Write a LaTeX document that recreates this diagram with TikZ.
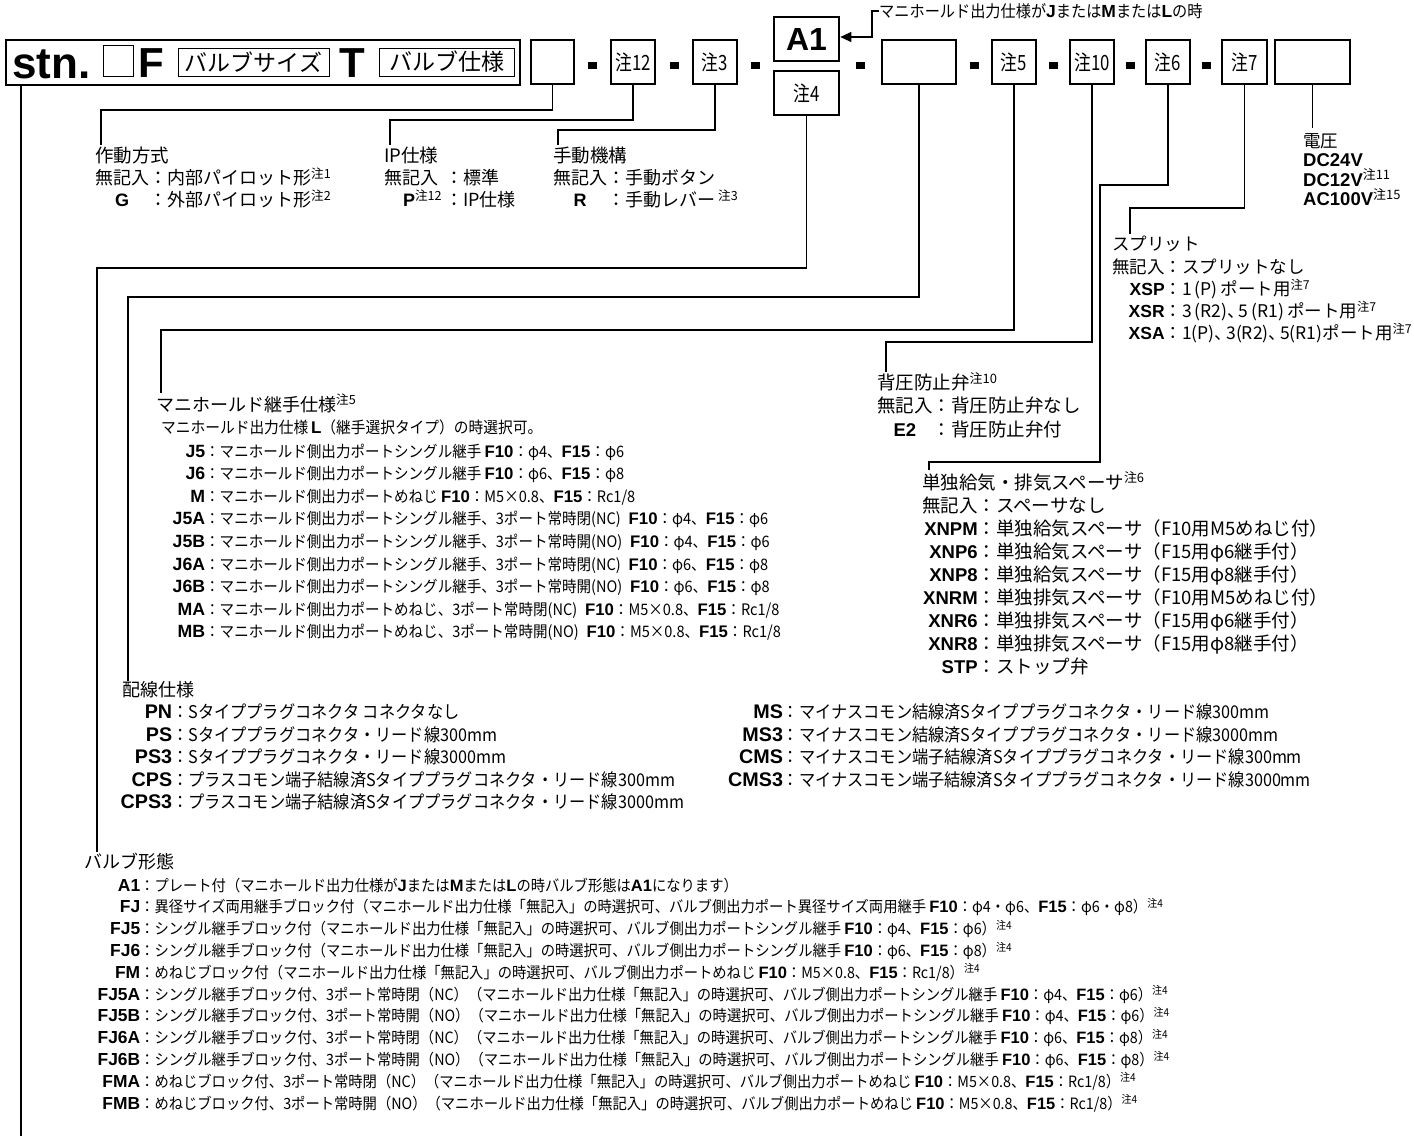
\documentclass[tikz,border=0pt]{standalone}
\usepackage{fontspec}
\usetikzlibrary{arrows.meta}
\setmainfont{Noto Sans CJK JP}
\newfontfamily\lat{Liberation Sans}
\newfontfamily\jc{Noto Sans CJK JP}[FakeStretch=0.92]
\newfontfamily\jn{Noto Sans CJK JP}[FakeStretch=0.8]
\newcommand\Bd[1]{{\lat\bfseries #1}}
\makeatletter
\newcommand\Bcd[1]{{\lat\bfseries\fontsize{\strip@pt\dimexpr 1.06\dimexpr\f@size pt\relax\relax}{\f@baselineskip}\selectfont #1}}
\newcommand\Cd[1]{{\lat\bfseries\fontsize{\strip@pt\dimexpr 1.12\dimexpr\f@size pt\relax\relax}{\f@baselineskip}\selectfont #1}}
\makeatother
\newcommand\chu[1]{\smash{\textsuperscript{注#1}}}
\newcommand\FS[2]{\fontsize{#1}{#2}\selectfont}
\newcommand\muki{（マニホールド出力仕様「無記入」の時選択可、バルブ側出力ポート}
\begin{document}
\begin{tikzpicture}[x=1pt,y=-1pt,
  conn/.style={line width=1.1pt},
  thinbox/.style={draw,line width=0.8pt,inner sep=0pt},
  hv/.style={draw,line width=2.6pt,inner sep=0pt,minimum height=44pt,font=\jn\FS{21}{21}},
  dashbox/.style={fill,inner sep=0pt,minimum width=9pt,minimum height=7pt},
  txt/.style={anchor=base west,inner sep=0pt},
  big/.style={anchor=base,inner sep=0pt,font=\lat\bfseries\FS{42}{42}}]
\useasboundingbox (0,0) rectangle (1414,1136);

% ---------- header ----------
\node[draw,line width=2pt,inner sep=0pt,minimum width=514pt,minimum height=45pt,anchor=north west] (stnbox) at (5,39) {};
\node[txt,font=\lat\bfseries\FS{44}{44}] (stn) at (12,78) {stn.};
\node[thinbox,minimum width=30pt,minimum height=31pt] (sq) at (118,60.5) {};
\node[big] (F) at (151,77) {F};
\node[thinbox,minimum width=151pt,minimum height=28pt,font=\FS{23}{23}] (vsize) at (253.5,62) {バルブサイズ};
\node[big] (T) at (352,77) {T};
\node[thinbox,minimum width=135pt,minimum height=28pt,font=\FS{23}{23}] (vspec) at (446.5,62) {バルブ仕様};

\node[hv,minimum width=43pt] (b1) at (552.5,62) {};
\node[hv,minimum width=44pt] (n12) at (633,62) {注12};
\node[hv,minimum width=44pt] (n3) at (715,62) {注3};
\node[hv,minimum width=65pt,font=\lat\bfseries\FS{32}{32}] (a1) at (806.5,39) {A1};
\node[hv,minimum width=65pt] (n4) at (806.5,93) {注4};
\node[hv,minimum width=74pt] (b2) at (919,62) {};
\node[hv,minimum width=44pt] (n5) at (1014,62) {注5};
\node[hv,minimum width=44pt] (n10) at (1092,62) {注10};
\node[hv,minimum width=44pt] (n6) at (1168,62) {注6};
\node[hv,minimum width=45pt] (n7) at (1244.5,62) {注7};
\node[hv,minimum width=75pt] (b3) at (1312.5,62) {};

\node[dashbox] (d1) at (592,65) {};
\node[dashbox] (d2) at (674,65) {};
\node[dashbox] (d3) at (755,65) {};
\node[dashbox] (d4) at (860,65) {};
\node[dashbox] (d5) at (974,65) {};
\node[dashbox] (d6) at (1053,65) {};
\node[dashbox] (d7) at (1130,65) {};
\node[dashbox] (d8) at (1206,65) {};

\node[anchor=west,inner sep=0pt,font=\jc\FS{16.5}{16.5}] (note) at (879,11) {マニホールド出力仕様が\Bcd{J}または\Bcd{M}または\Bcd{L}の時};
\draw[line width=1.1pt,-{Triangle[length=11pt,width=10pt]}] (note.west) -- ++(-7,0) |- ([yshift=2pt]a1.east);

% ---------- upper blocks ----------
\node[txt,font=\FS{18.5}{22}] (sadou-h) at (95,162.5) {作動方式};
\node[txt,font=\FS{18}{22}] (sadou) at (95,184.5) {\begin{tabular}[t]{@{}c@{}l@{}}無記入&：内部パイロット形\chu{1}\\ \Bd{G}&：外部パイロット形\chu{2}\end{tabular}};

\node[txt,font=\FS{18.5}{22}] (ip-h) at (384,162.5) {IP仕様};
\node[txt,font=\FS{18}{22}] (ip) at (384,184.5) {\begin{tabular}[t]{@{}l@{}l@{}}\makebox[61pt][l]{無記入}&：標準\\ \makebox[61pt][r]{\Bd{P}\chu{12}\hspace{3pt}}&：IP仕様\end{tabular}};

\node[txt,font=\FS{18.5}{22}] (shudo-h) at (553,162.5) {手動機構};
\node[txt,font=\FS{18}{22}] (shudo) at (553,184.5) {\begin{tabular}[t]{@{}c@{}l@{}}無記入&：手動ボタン\\ \Bd{R}&：手動レバー\,\chu{3}\end{tabular}};

\node[txt,font=\FS{17.5}{19.5}] (volt-h) at (1303,147.5) {電圧};
\node[txt,font=\FS{18.5}{19.5}] (volt) at (1303,166.5) {\begin{tabular}[t]{@{}l@{}}\Bd{DC24V}\\ \Bd{DC12V}\chu{11}\\ \Bd{AC100V}\chu{15}\end{tabular}};

\node[txt,font=\FS{17.5}{22}] (split-h) at (1112,250.6) {スプリット};
\node[txt,font=\FS{17.5}{22}] (split) at (1112,273.6) {\begin{tabular}[t]{@{}r@{}l@{}}無記入&：スプリットなし\\ \Bd{XSP}&：1\,(P)\,ポート用\chu{7}\\ \Bd{XSR}&：3\,(R2)、\kern-6pt 5\,(R1)\,ポート用\chu{7}\\ \Bd{XSA}&：1(P)、\kern-6pt 3(R2)、\kern-6pt 5(R1)ポート用\chu{7}\end{tabular}};

\node[txt,font=\FS{18.5}{23.3}] (haiatsu-h) at (877,389.5) {背圧防止弁\chu{10}};
\node[txt,font=\FS{18.5}{23.3}] (haiatsu) at (877,412.8) {\begin{tabular}[t]{@{}c@{}l@{}}無記入&：背圧防止弁なし\\ \Bd{E2}&：背圧防止弁付\end{tabular}};

\node[txt,font=\FS{18.5}{23}] (tandoku-h) at (922,489) {単独給気・排気スペーサ\chu{6}};
\node[txt,font=\FS{18.5}{23}] (tandoku) at (922,512) {\begin{tabular}[t]{@{}r@{}l@{}}無記入&：スペーサなし\\
\Bd{XNPM}&：単独給気スペーサ（F10用M5めねじ付）\\
\Bd{XNP6}&：単独給気スペーサ（F15用φ6継手付）\\
\Bd{XNP8}&：単独給気スペーサ（F15用φ8継手付）\\
\Bd{XNRM}&：単独排気スペーサ（F10用M5めねじ付）\\
\Bd{XNR6}&：単独排気スペーサ（F15用φ6継手付）\\
\Bd{XNR8}&：単独排気スペーサ（F15用φ8継手付）\\
\Bd{STP}&：ストップ弁\end{tabular}};

% ---------- manifold fitting ----------
\node[txt,font=\FS{18}{22}] (mani-h) at (156,411) {マニホールド継手仕様\chu{5}};
\node[txt,font=\jc\FS{16}{22}] (mani-s) at (161,433) {マニホールド出力仕様\,\Bcd{L}（継手選択タイプ）の時選択可。};
\node[txt,font=\jc\FS{15.8}{22.6}] (mani) at (160,457) {\begin{tabular}[t]{@{}r@{}l@{}}
\makebox[45pt][r]{\Cd{J5}}&：マニホールド側出力ポートシングル継手 \Bcd{F10}：φ4、\Bcd{F15}：φ6\\
\Cd{J6}&：マニホールド側出力ポートシングル継手 \Bcd{F10}：φ6、\Bcd{F15}：φ8\\
\Cd{M}&：マニホールド側出力ポートめねじ \Bcd{F10}：M5×0.8、\Bcd{F15}：Rc1/8\\
\Cd{J5A}&：マニホールド側出力ポートシングル継手、3ポート常時閉(NC)\enspace\Bcd{F10}：φ4、\Bcd{F15}：φ6\\
\Cd{J5B}&：マニホールド側出力ポートシングル継手、3ポート常時開(NO)\enspace\Bcd{F10}：φ4、\Bcd{F15}：φ6\\
\Cd{J6A}&：マニホールド側出力ポートシングル継手、3ポート常時閉(NC)\enspace\Bcd{F10}：φ6、\Bcd{F15}：φ8\\
\Cd{J6B}&：マニホールド側出力ポートシングル継手、3ポート常時開(NO)\enspace\Bcd{F10}：φ6、\Bcd{F15}：φ8\\
\Cd{MA}&：マニホールド側出力ポートめねじ、3ポート常時閉(NC)\enspace\Bcd{F10}：M5×0.8、\Bcd{F15}：Rc1/8\\
\Cd{MB}&：マニホールド側出力ポートめねじ、3ポート常時開(NO)\enspace\Bcd{F10}：M5×0.8、\Bcd{F15}：Rc1/8
\end{tabular}};

% ---------- wiring ----------
\node[txt,font=\FS{18}{22.5}] (hai-h) at (122,696.5) {配線仕様};
\node[txt,font=\jc\FS{17.6}{22.5}] (hai) at (100,718.5) {\begin{tabular}[t]{@{}r@{}l@{}}
\makebox[72pt][r]{\Cd{PN}}&：Sタイププラグコネクタ コネクタなし\\
\Cd{PS}&：Sタイププラグコネクタ・リード線300mm\\
\Cd{PS3}&：Sタイププラグコネクタ・リード線3000mm\\
\Cd{CPS}&：プラスコモン端子結線済Sタイププラグコネクタ・リード線300mm\\
\Cd{CPS3}&：プラスコモン端子結線済Sタイププラグコネクタ・リード線3000mm
\end{tabular}};
\node[txt,font=\jc\FS{17.6}{22.5}] (hai2) at (728,718.5) {\begin{tabular}[t]{@{}r@{}l@{}}
\makebox[52pt][r]{\Cd{MS}}&：マイナスコモン結線済Sタイププラグコネクタ・リード線300mm\\
\Cd{MS3}&：マイナスコモン結線済Sタイププラグコネクタ・リード線3000mm\\
\Cd{CMS}&：マイナスコモン端子結線済Sタイププラグコネクタ・リード線300mm\\
\Cd{CMS3}&：マイナスコモン端子結線済Sタイププラグコネクタ・リード線3000mm
\end{tabular}};

% ---------- valve form ----------
\node[txt,font=\FS{18}{22}] (vk-h) at (84,868.5) {バルブ形態};
\node[txt,font=\jc\FS{15.55}{21.8}] (vk) at (84,891) {\begin{tabular}[t]{@{}r@{}l@{}}
\makebox[56pt][r]{\Cd{A1}}&：プレート付（マニホールド出力仕様が\Bcd{J}または\Bcd{M}または\Bcd{L}の時バルブ形態は\Bcd{A1}になります）\\
\Cd{FJ}&：異径サイズ両用継手ブロック付\muki 異径サイズ両用継手 \Bcd{F10}：φ4・φ6、\Bcd{F15}：φ6・φ8）\chu{4}\\
\Cd{FJ5}&：シングル継手ブロック付\muki シングル継手 \Bcd{F10}：φ4、\Bcd{F15}：φ6）\chu{4}\\
\Cd{FJ6}&：シングル継手ブロック付\muki シングル継手 \Bcd{F10}：φ6、\Bcd{F15}：φ8）\chu{4}\\
\Cd{FM}&：めねじブロック付\muki めねじ \Bcd{F10}：M5×0.8、\Bcd{F15}：Rc1/8）\chu{4}\\
\Cd{FJ5A}&：シングル継手ブロック付、3ポート常時閉（NC）\muki シングル継手 \Bcd{F10}：φ4、\Bcd{F15}：φ6）\chu{4}\\
\Cd{FJ5B}&：シングル継手ブロック付、3ポート常時開（NO）\muki シングル継手 \Bcd{F10}：φ4、\Bcd{F15}：φ6）\chu{4}\\
\Cd{FJ6A}&：シングル継手ブロック付、3ポート常時閉（NC）\muki シングル継手 \Bcd{F10}：φ6、\Bcd{F15}：φ8）\chu{4}\\
\Cd{FJ6B}&：シングル継手ブロック付、3ポート常時開（NO）\muki シングル継手 \Bcd{F10}：φ6、\Bcd{F15}：φ8）\chu{4}\\
\Cd{FMA}&：めねじブロック付、3ポート常時閉（NC）\muki めねじ \Bcd{F10}：M5×0.8、\Bcd{F15}：Rc1/8）\chu{4}\\
\Cd{FMB}&：めねじブロック付、3ポート常時開（NO）\muki めねじ \Bcd{F10}：M5×0.8、\Bcd{F15}：Rc1/8）\chu{4}
\end{tabular}};

% ---------- connectors ----------
\coordinate (e-stn) at (21,1136);
\coordinate (e-sadou) at (101,145);
\coordinate (e-ip) at (390,145);
\coordinate (e-shudo) at (558,145);
\coordinate (e-vk) at (97,852);
\coordinate (e-hai) at (128,681);
\coordinate (e-mani) at (161,393);
\coordinate (e-haiatsu) at (886,372);
\coordinate (e-tandoku) at (929,470);
\coordinate (e-split) at (1130,234);
\coordinate (e-volt) at (1312.5,128);

\draw[conn] (e-stn |- stnbox.south) -- (e-stn);
\draw[conn] (b1.south) |- (101,110) -- (e-sadou);
\draw[conn] (n12.south) |- (390,120) -- (e-ip);
\draw[conn] (n3.south) |- (558,130) -- (e-shudo);
\draw[conn] (n4.south) |- (97,268) -- (e-vk);
\draw[conn] (b2.south) |- (128,297) -- (e-hai);
\draw[conn] (n5.south) |- (161,330) -- (e-mani);
\draw[conn] (n10.south) |- (886,342) -- (e-haiatsu);
\draw[conn] (n6.south) |- (1100,185) |- (929,462) -- (e-tandoku);
\draw[conn] (n7.south) |- (1130,208) -- (e-split);
\draw[conn] (b3.south) -- (e-volt);
\end{tikzpicture}
\end{document}
